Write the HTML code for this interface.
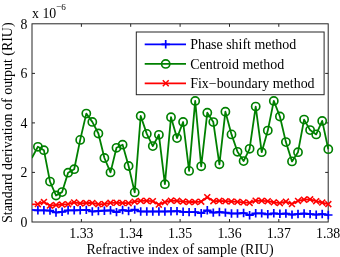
<!DOCTYPE html>
<html><head><meta charset="utf-8"><style>
html,body{margin:0;padding:0;background:#fff;}
svg{display:block;will-change:transform}
text{font-family:"Liberation Serif",serif;font-size:13.8px;fill:#000}
.lb{font-size:13.95px}
</style></head><body>
<svg width="340" height="257" viewBox="0 0 340 257">
<rect width="340" height="257" fill="#fff"/>
<defs><clipPath id="c"><rect x="32.0" y="20" width="310" height="215"/></clipPath></defs>
<rect x="32.0" y="23.8" width="296.2" height="198.2" fill="none" stroke="#262626" stroke-width="1"/>
<path d="M81.4,222.0v-3M81.4,23.8v3M130.7,222.0v-3M130.7,23.8v3M180.1,222.0v-3M180.1,23.8v3M229.5,222.0v-3M229.5,23.8v3M278.8,222.0v-3M278.8,23.8v3M32.0,172.4h3M328.2,172.4h-3M32.0,122.9h3M328.2,122.9h-3M32.0,73.4h3M328.2,73.4h-3" stroke="#262626" stroke-width="1" fill="none"/>
<g clip-path="url(#c)">
<polyline points="31.8,209.9 37.9,210.3 43.9,210.3 50.0,210.6 56.0,212.5 62.1,211.8 68.1,210.3 74.2,210.3 80.2,210.2 86.3,209.9 92.3,211.5 98.4,211.0 104.4,210.7 110.5,210.3 116.5,212.1 122.6,210.0 128.6,211.0 134.7,209.6 140.7,211.5 146.8,211.5 152.8,211.5 158.9,211.5 164.9,211.5 171.0,211.3 177.0,211.1 183.1,211.8 189.1,212.1 195.2,212.1 201.2,213.2 207.3,210.3 213.3,212.6 219.4,212.0 225.4,212.6 231.5,213.5 237.5,213.5 243.6,213.0 249.6,215.2 255.7,213.3 261.7,213.4 267.8,214.3 273.8,213.3 279.9,213.8 285.9,213.5 292.0,214.6 298.0,214.0 304.1,213.5 310.1,214.1 316.2,214.7 322.2,214.0 328.3,215.0" fill="none" stroke="#0000ff" stroke-width="1.8"/>
<path d="M33.7,210.3h8.4M37.9,206.1v8.4M39.7,210.3h8.4M43.9,206.1v8.4M45.8,210.6h8.4M50.0,206.4v8.4M51.8,212.5h8.4M56.0,208.3v8.4M57.9,211.8h8.4M62.1,207.6v8.4M63.9,210.3h8.4M68.1,206.1v8.4M70.0,210.3h8.4M74.2,206.1v8.4M76.0,210.2h8.4M80.2,206.0v8.4M82.1,209.9h8.4M86.3,205.7v8.4M88.1,211.5h8.4M92.3,207.3v8.4M94.2,211.0h8.4M98.4,206.8v8.4M100.2,210.7h8.4M104.4,206.5v8.4M106.3,210.3h8.4M110.5,206.1v8.4M112.3,212.1h8.4M116.5,207.9v8.4M118.4,210.0h8.4M122.6,205.8v8.4M124.4,211.0h8.4M128.6,206.8v8.4M130.5,209.6h8.4M134.7,205.4v8.4M136.5,211.5h8.4M140.7,207.3v8.4M142.6,211.5h8.4M146.8,207.3v8.4M148.6,211.5h8.4M152.8,207.3v8.4M154.7,211.5h8.4M158.9,207.3v8.4M160.7,211.5h8.4M164.9,207.3v8.4M166.8,211.3h8.4M171.0,207.1v8.4M172.8,211.1h8.4M177.0,206.9v8.4M178.9,211.8h8.4M183.1,207.6v8.4M184.9,212.1h8.4M189.1,207.9v8.4M191.0,212.1h8.4M195.2,207.9v8.4M197.0,213.2h8.4M201.2,209.0v8.4M203.1,210.3h8.4M207.3,206.1v8.4M209.1,212.6h8.4M213.3,208.4v8.4M215.2,212.0h8.4M219.4,207.8v8.4M221.2,212.6h8.4M225.4,208.4v8.4M227.3,213.5h8.4M231.5,209.3v8.4M233.3,213.5h8.4M237.5,209.3v8.4M239.4,213.0h8.4M243.6,208.8v8.4M245.4,215.2h8.4M249.6,211.0v8.4M251.5,213.3h8.4M255.7,209.1v8.4M257.5,213.4h8.4M261.7,209.2v8.4M263.6,214.3h8.4M267.8,210.1v8.4M269.6,213.3h8.4M273.8,209.1v8.4M275.7,213.8h8.4M279.9,209.6v8.4M281.7,213.5h8.4M285.9,209.3v8.4M287.8,214.6h8.4M292.0,210.4v8.4M293.8,214.0h8.4M298.0,209.8v8.4M299.9,213.5h8.4M304.1,209.3v8.4M305.9,214.1h8.4M310.1,209.9v8.4M312.0,214.7h8.4M316.2,210.5v8.4M318.0,214.0h8.4M322.2,209.8v8.4M324.1,215.0h8.4M328.3,210.8v8.4" stroke="#0000ff" stroke-width="1.7" fill="none"/>
<polyline points="31.8,158.0 37.9,146.8 43.9,150.2 50.0,181.6 56.0,195.5 62.1,192.1 68.1,172.7 74.2,169.2 80.2,139.9 86.3,113.6 92.3,121.9 98.4,133.5 104.4,158.0 110.5,172.4 116.5,147.8 122.6,144.7 128.6,166.0 134.7,192.4 140.7,116.0 146.8,133.9 152.8,146.1 158.9,134.8 164.9,184.2 171.0,117.2 177.0,138.1 183.1,122.0 189.1,170.9 195.2,100.9 201.2,166.3 207.3,112.7 213.3,122.1 219.4,164.3 225.4,111.7 231.5,134.4 237.5,151.8 243.6,161.1 249.6,148.8 255.7,106.6 261.7,152.2 267.8,130.6 273.8,100.9 279.9,116.5 285.9,142.1 292.0,161.4 298.0,152.2 304.1,119.6 310.1,130.1 316.2,134.4 322.2,120.9 328.3,149.2" fill="none" stroke="#008000" stroke-width="1.8" stroke-linejoin="round"/>
<circle cx="37.9" cy="146.8" r="4.1" fill="none" stroke="#008000" stroke-width="1.65"/>
<circle cx="43.9" cy="150.2" r="4.1" fill="none" stroke="#008000" stroke-width="1.65"/>
<circle cx="50.0" cy="181.6" r="4.1" fill="none" stroke="#008000" stroke-width="1.65"/>
<circle cx="56.0" cy="195.5" r="4.1" fill="none" stroke="#008000" stroke-width="1.65"/>
<circle cx="62.1" cy="192.1" r="4.1" fill="none" stroke="#008000" stroke-width="1.65"/>
<circle cx="68.1" cy="172.7" r="4.1" fill="none" stroke="#008000" stroke-width="1.65"/>
<circle cx="74.2" cy="169.2" r="4.1" fill="none" stroke="#008000" stroke-width="1.65"/>
<circle cx="80.2" cy="139.9" r="4.1" fill="none" stroke="#008000" stroke-width="1.65"/>
<circle cx="86.3" cy="113.6" r="4.1" fill="none" stroke="#008000" stroke-width="1.65"/>
<circle cx="92.3" cy="121.9" r="4.1" fill="none" stroke="#008000" stroke-width="1.65"/>
<circle cx="98.4" cy="133.5" r="4.1" fill="none" stroke="#008000" stroke-width="1.65"/>
<circle cx="104.4" cy="158.0" r="4.1" fill="none" stroke="#008000" stroke-width="1.65"/>
<circle cx="110.5" cy="172.4" r="4.1" fill="none" stroke="#008000" stroke-width="1.65"/>
<circle cx="116.5" cy="147.8" r="4.1" fill="none" stroke="#008000" stroke-width="1.65"/>
<circle cx="122.6" cy="144.7" r="4.1" fill="none" stroke="#008000" stroke-width="1.65"/>
<circle cx="128.6" cy="166.0" r="4.1" fill="none" stroke="#008000" stroke-width="1.65"/>
<circle cx="134.7" cy="192.4" r="4.1" fill="none" stroke="#008000" stroke-width="1.65"/>
<circle cx="140.7" cy="116.0" r="4.1" fill="none" stroke="#008000" stroke-width="1.65"/>
<circle cx="146.8" cy="133.9" r="4.1" fill="none" stroke="#008000" stroke-width="1.65"/>
<circle cx="152.8" cy="146.1" r="4.1" fill="none" stroke="#008000" stroke-width="1.65"/>
<circle cx="158.9" cy="134.8" r="4.1" fill="none" stroke="#008000" stroke-width="1.65"/>
<circle cx="164.9" cy="184.2" r="4.1" fill="none" stroke="#008000" stroke-width="1.65"/>
<circle cx="171.0" cy="117.2" r="4.1" fill="none" stroke="#008000" stroke-width="1.65"/>
<circle cx="177.0" cy="138.1" r="4.1" fill="none" stroke="#008000" stroke-width="1.65"/>
<circle cx="183.1" cy="122.0" r="4.1" fill="none" stroke="#008000" stroke-width="1.65"/>
<circle cx="189.1" cy="170.9" r="4.1" fill="none" stroke="#008000" stroke-width="1.65"/>
<circle cx="195.2" cy="100.9" r="4.1" fill="none" stroke="#008000" stroke-width="1.65"/>
<circle cx="201.2" cy="166.3" r="4.1" fill="none" stroke="#008000" stroke-width="1.65"/>
<circle cx="207.3" cy="112.7" r="4.1" fill="none" stroke="#008000" stroke-width="1.65"/>
<circle cx="213.3" cy="122.1" r="4.1" fill="none" stroke="#008000" stroke-width="1.65"/>
<circle cx="219.4" cy="164.3" r="4.1" fill="none" stroke="#008000" stroke-width="1.65"/>
<circle cx="225.4" cy="111.7" r="4.1" fill="none" stroke="#008000" stroke-width="1.65"/>
<circle cx="231.5" cy="134.4" r="4.1" fill="none" stroke="#008000" stroke-width="1.65"/>
<circle cx="237.5" cy="151.8" r="4.1" fill="none" stroke="#008000" stroke-width="1.65"/>
<circle cx="243.6" cy="161.1" r="4.1" fill="none" stroke="#008000" stroke-width="1.65"/>
<circle cx="249.6" cy="148.8" r="4.1" fill="none" stroke="#008000" stroke-width="1.65"/>
<circle cx="255.7" cy="106.6" r="4.1" fill="none" stroke="#008000" stroke-width="1.65"/>
<circle cx="261.7" cy="152.2" r="4.1" fill="none" stroke="#008000" stroke-width="1.65"/>
<circle cx="267.8" cy="130.6" r="4.1" fill="none" stroke="#008000" stroke-width="1.65"/>
<circle cx="273.8" cy="100.9" r="4.1" fill="none" stroke="#008000" stroke-width="1.65"/>
<circle cx="279.9" cy="116.5" r="4.1" fill="none" stroke="#008000" stroke-width="1.65"/>
<circle cx="285.9" cy="142.1" r="4.1" fill="none" stroke="#008000" stroke-width="1.65"/>
<circle cx="292.0" cy="161.4" r="4.1" fill="none" stroke="#008000" stroke-width="1.65"/>
<circle cx="298.0" cy="152.2" r="4.1" fill="none" stroke="#008000" stroke-width="1.65"/>
<circle cx="304.1" cy="119.6" r="4.1" fill="none" stroke="#008000" stroke-width="1.65"/>
<circle cx="310.1" cy="130.1" r="4.1" fill="none" stroke="#008000" stroke-width="1.65"/>
<circle cx="316.2" cy="134.4" r="4.1" fill="none" stroke="#008000" stroke-width="1.65"/>
<circle cx="322.2" cy="120.9" r="4.1" fill="none" stroke="#008000" stroke-width="1.65"/>
<circle cx="328.3" cy="149.2" r="4.1" fill="none" stroke="#008000" stroke-width="1.65"/>
<polyline points="31.8,204.3 37.9,204.1 43.9,202.0 50.0,205.6 56.0,205.0 62.1,204.5 68.1,204.1 74.2,202.4 80.2,203.4 86.3,203.0 92.3,203.0 98.4,204.2 104.4,204.0 110.5,202.8 116.5,202.8 122.6,203.0 128.6,203.1 134.7,201.6 140.7,200.9 146.8,200.9 152.8,201.2 158.9,204.6 164.9,202.1 171.0,200.6 177.0,200.9 183.1,201.6 189.1,202.0 195.2,202.0 201.2,201.6 207.3,197.2 213.3,201.2 219.4,200.9 225.4,201.2 231.5,201.5 237.5,201.9 243.6,202.4 249.6,202.9 255.7,200.6 261.7,200.8 267.8,201.2 273.8,202.4 279.9,203.1 285.9,201.6 292.0,204.0 298.0,200.9 304.1,199.6 310.1,199.4 316.2,201.2 322.2,202.6 328.3,204.1" fill="none" stroke="#ff0000" stroke-width="1.8"/>
<path d="M34.9,201.2l5.9,5.9M34.9,207.0l5.9,-5.9M41.0,199.1l5.9,5.9M41.0,204.9l5.9,-5.9M47.0,202.7l5.9,5.9M47.0,208.5l5.9,-5.9M53.1,202.1l5.9,5.9M53.1,207.9l5.9,-5.9M59.1,201.6l5.9,5.9M59.1,207.4l5.9,-5.9M65.2,201.2l5.9,5.9M65.2,207.0l5.9,-5.9M71.2,199.5l5.9,5.9M71.2,205.3l5.9,-5.9M77.3,200.5l5.9,5.9M77.3,206.3l5.9,-5.9M83.3,200.1l5.9,5.9M83.3,205.9l5.9,-5.9M89.4,200.1l5.9,5.9M89.4,205.9l5.9,-5.9M95.4,201.2l5.9,5.9M95.4,207.1l5.9,-5.9M101.5,201.1l5.9,5.9M101.5,206.9l5.9,-5.9M107.5,199.9l5.9,5.9M107.5,205.8l5.9,-5.9M113.6,199.9l5.9,5.9M113.6,205.8l5.9,-5.9M119.6,200.1l5.9,5.9M119.6,205.9l5.9,-5.9M125.7,200.2l5.9,5.9M125.7,206.0l5.9,-5.9M131.7,198.7l5.9,5.9M131.7,204.5l5.9,-5.9M137.8,198.0l5.9,5.9M137.8,203.8l5.9,-5.9M143.8,198.0l5.9,5.9M143.8,203.8l5.9,-5.9M149.9,198.2l5.9,5.9M149.9,204.1l5.9,-5.9M155.9,201.7l5.9,5.9M155.9,207.5l5.9,-5.9M162.0,199.2l5.9,5.9M162.0,205.0l5.9,-5.9M168.0,197.7l5.9,5.9M168.0,203.5l5.9,-5.9M174.1,198.0l5.9,5.9M174.1,203.8l5.9,-5.9M180.1,198.7l5.9,5.9M180.1,204.5l5.9,-5.9M186.2,199.1l5.9,5.9M186.2,204.9l5.9,-5.9M192.2,199.1l5.9,5.9M192.2,204.9l5.9,-5.9M198.3,198.7l5.9,5.9M198.3,204.5l5.9,-5.9M204.3,194.2l5.9,5.9M204.3,200.1l5.9,-5.9M210.4,198.2l5.9,5.9M210.4,204.1l5.9,-5.9M216.4,198.0l5.9,5.9M216.4,203.8l5.9,-5.9M222.5,198.2l5.9,5.9M222.5,204.1l5.9,-5.9M228.5,198.6l5.9,5.9M228.5,204.4l5.9,-5.9M234.6,199.0l5.9,5.9M234.6,204.8l5.9,-5.9M240.6,199.5l5.9,5.9M240.6,205.3l5.9,-5.9M246.7,200.0l5.9,5.9M246.7,205.8l5.9,-5.9M252.7,197.7l5.9,5.9M252.7,203.5l5.9,-5.9M258.8,197.9l5.9,5.9M258.8,203.8l5.9,-5.9M264.8,198.2l5.9,5.9M264.8,204.1l5.9,-5.9M270.9,199.5l5.9,5.9M270.9,205.3l5.9,-5.9M276.9,200.2l5.9,5.9M276.9,206.0l5.9,-5.9M283.0,198.7l5.9,5.9M283.0,204.5l5.9,-5.9M289.0,201.1l5.9,5.9M289.0,206.9l5.9,-5.9M295.1,198.0l5.9,5.9M295.1,203.8l5.9,-5.9M301.1,196.7l5.9,5.9M301.1,202.5l5.9,-5.9M307.2,196.5l5.9,5.9M307.2,202.3l5.9,-5.9M313.2,198.2l5.9,5.9M313.2,204.1l5.9,-5.9M319.3,199.7l5.9,5.9M319.3,205.5l5.9,-5.9M325.4,201.2l5.9,5.9M325.4,207.0l5.9,-5.9" stroke="#ff0000" stroke-width="1.5" fill="none"/>
</g>
<text x="81.4" y="237.9" text-anchor="middle">1.33</text><text x="130.7" y="237.9" text-anchor="middle">1.34</text><text x="180.1" y="237.9" text-anchor="middle">1.35</text><text x="229.5" y="237.9" text-anchor="middle">1.36</text><text x="278.8" y="237.9" text-anchor="middle">1.37</text><text x="328.2" y="237.9" text-anchor="middle">1.38</text>
<text x="27.3" y="226.7" text-anchor="end">0</text><text x="27.3" y="177.1" text-anchor="end">2</text><text x="27.3" y="127.6" text-anchor="end">4</text><text x="27.3" y="78.1" text-anchor="end">6</text><text x="27.3" y="28.5" text-anchor="end">8</text>
<text x="32.1" y="18.0">x 10</text><text x="56.0" y="10.3" style="font-size:9.2px">−6</text>
<text class="lb" x="180.1" y="253.9" text-anchor="middle">Refractive index of sample (RIU)</text>
<text class="lb" transform="translate(12.3,122.7) rotate(-90)" text-anchor="middle">Standard derivation of output (RIU)</text>
<rect x="136.3" y="32.0" width="187.8" height="62.7" fill="#fff" stroke="#262626" stroke-width="1"/>
<path d="M144.7,44.3H186" stroke="#0000ff" stroke-width="1.8"/><path d="M161.5,44.3h8.4M165.7,40.1v8.4" stroke="#0000ff" stroke-width="1.7"/>
<path d="M144.7,63.9H186" stroke="#008000" stroke-width="1.8"/><circle cx="165.7" cy="63.9" r="4.1" fill="none" stroke="#008000" stroke-width="1.65"/>
<path d="M144.7,83.3H186" stroke="#ff0000" stroke-width="1.8"/><path d="M162.8,80.3l5.9,5.9M162.8,86.2l5.9,-5.9" stroke="#ff0000" stroke-width="1.5"/>
<text class="lb" x="190.2" y="49.2">Phase shift method</text>
<text class="lb" x="190.2" y="68.9">Centroid method</text>
<text class="lb" x="190.2" y="88.3">Fix−boundary method</text>
</svg>
</body></html>
